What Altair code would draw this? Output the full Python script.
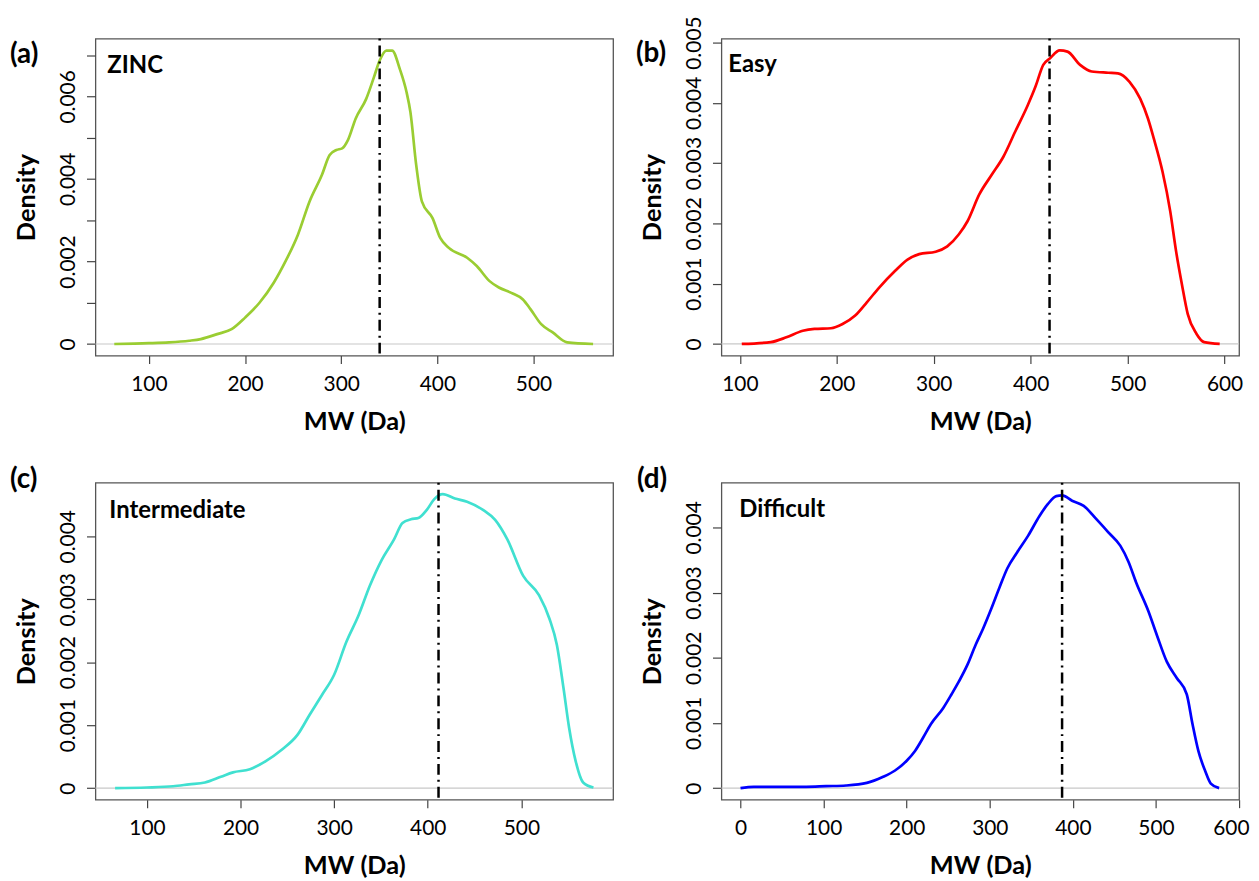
import altair as alt
import pandas as pd

# ---------------- data ----------------
zinc_mw = [64, 100, 121, 142, 154, 171, 186, 200, 215, 230, 242, 255, 267, 280, 288, 295, 301, 307,
           315, 326, 334, 340, 347, 353, 361, 368, 372, 378, 384, 395, 403, 412, 431, 441, 454, 464,
           477, 489, 497, 508, 520, 535, 562]
zinc_density = [0, 0.00002, 0.00004, 0.00008, 0.00012, 0.00024, 0.00036, 0.00064, 0.00100, 0.00149,
                0.00200, 0.00265, 0.00345, 0.00410, 0.00458, 0.00470, 0.00474, 0.00494, 0.00546,
                0.00594, 0.00646, 0.00687, 0.00711, 0.00711, 0.00666, 0.00610, 0.00562, 0.00434,
                0.00345, 0.00305, 0.00257, 0.00233, 0.00209, 0.00189, 0.00153, 0.00137, 0.00124,
                0.00108, 0.00084, 0.00048, 0.00028, 0.00004, 0]

easy_mw = [102, 132, 148, 165, 177, 194, 206, 219, 231, 244, 260, 273, 285, 302, 314, 326, 335, 347,
           360, 372, 384, 397, 405, 413, 420, 430, 438, 451, 463, 480, 490, 502, 513, 521, 527, 536,
           544, 550, 556, 562, 571, 579, 595]
easy_density = [0, 0.00003, 0.00011, 0.00022, 0.00025, 0.00026, 0.00033, 0.00047, 0.00069, 0.00094,
                0.00121, 0.00140, 0.00149, 0.00153, 0.00162, 0.00182, 0.00204, 0.00248, 0.00281,
                0.00311, 0.00352, 0.00396, 0.00427, 0.00463, 0.00474, 0.00487, 0.00485, 0.00463,
                0.00452, 0.00450, 0.00449, 0.00435, 0.00407, 0.00374, 0.00341, 0.00286, 0.00220,
                0.00154, 0.00099, 0.00050, 0.00017, 0.00003, 0]

inter_mw = [66, 100, 128, 145, 162, 179, 192, 210, 227, 244, 261, 274, 287, 300, 313, 326, 338, 351,
            364, 373, 382, 390, 399, 407, 416, 429, 442, 459, 472, 485, 502, 519, 530, 538, 545, 551,
            558, 566, 577]
inter_density = [0, 0.00001, 0.00003, 0.00006, 0.00009, 0.00018, 0.00025, 0.00030, 0.00043, 0.00061,
                 0.00085, 0.00117, 0.00148, 0.00180, 0.00232, 0.00274, 0.00321, 0.00363, 0.00395,
                 0.00421, 0.00427, 0.00429, 0.00442, 0.00459, 0.00467, 0.00460, 0.00455, 0.00442,
                 0.00426, 0.00395, 0.00337, 0.00306, 0.00269, 0.00227, 0.00159, 0.00096, 0.00043,
                 0.00009, 0.00001]

diff_mw = [0, 16, 55, 79, 103, 127, 152, 171, 186, 200, 210, 220, 229, 244, 254, 263, 273, 283, 292,
           302, 312, 321, 333, 346, 360, 370, 380, 387, 399, 413, 428, 443, 457, 467, 476, 491, 501,
           513, 525, 537, 544, 551, 559, 566, 576]
diff_density = [0, 0.00002, 0.00002, 0.00002, 0.00003, 0.00004, 0.00008, 0.00017, 0.00027, 0.00042,
                0.00057, 0.00078, 0.00098, 0.00123, 0.00144, 0.00164, 0.00189, 0.00220, 0.00245,
                0.00276, 0.00309, 0.00337, 0.00362, 0.00387, 0.00418, 0.00436, 0.00448, 0.00449,
                0.00441, 0.00433, 0.00413, 0.00392, 0.00372, 0.00347, 0.00316, 0.00271, 0.00235,
                0.00194, 0.00169, 0.00144, 0.00098, 0.00057, 0.00027, 0.00007, 0]

panel_letters = ["(a)", "(b)", "(c)", "(d)"]
panel_names = ["ZINC", "Easy", "Intermediate", "Difficult"]
panel_colors = ["#9ACD32", "#FF0000", "#40E0D0", "#0000FF"]
median_mw = [340, 419.5, 411.5, 387]
x_domains = [[44.4, 582.8], [81, 615], [45, 598], [-23, 600]]
y_domains = [[-0.00028, 0.0074], [-0.000193, 0.005066], [-0.000184, 0.00485], [-0.000178, 0.004685]]
x_ticks = [[100, 200, 300, 400, 500], [100, 200, 300, 400, 500, 600],
           [100, 200, 300, 400, 500], [0, 100, 200, 300, 400, 500, 600]]
y_ticks = [[0, 0.001, 0.002, 0.003, 0.004, 0.005, 0.006, 0.007],
           [0, 0.001, 0.002, 0.003, 0.004, 0.005],
           [0, 0.001, 0.002, 0.003, 0.004],
           [0, 0.001, 0.002, 0.003, 0.004]]
series_mw = [zinc_mw, easy_mw, inter_mw, diff_mw]
series_density = [zinc_density, easy_density, inter_density, diff_density]

# label placement (pixels relative to plot area)
letter_pos = [(-86, 17), (-86, 16), (-86, -3), (-85, -3)]
name_pos = [(12, 35), (7, 34), (14, 35), (18, 34)]

FONT = "Lato"
W, H = 521, 319


def panel(i):
    xs = alt.Scale(domain=x_domains[i], nice=False, zero=False)
    ys = alt.Scale(domain=y_domains[i], nice=False, zero=False)
    if i == 0:
        lab = ("abs(datum.value) < 1e-9 ? '0' : (round(datum.value*1000) % 2 == 1 ? '' : "
               "format(datum.value, '.3f'))")
    else:
        lab = "abs(datum.value) < 1e-9 ? '0' : format(datum.value, '.3f')"
    # the last label of panel (d) sits on the right page edge: keep it fully visible
    flush = dict(labelFlush=True, labelFlushOffset=10) if i == 3 else dict(labelFlush=False)
    x_axis = alt.Axis(values=x_ticks[i], format="d", title="MW (Da)", grid=False, domain=False,
                      tickSize=8, tickColor="#444", tickWidth=1.2, labelPadding=10,
                      labelFont=FONT, labelFontSize=21, labelColor="black",
                      labelOverlap=False, labelBound=False, **flush,
                      titleFont=FONT, titleFontSize=25.5, titleFontWeight="bold",
                      titleColor="black", titlePadding=15)
    y_axis = alt.Axis(values=y_ticks[i], labelExpr=lab, title="Density", grid=False, domain=False,
                      tickSize=9, tickColor="#444", tickWidth=1.2, labelPadding=8,
                      labelAngle=270, labelAlign="center", labelBaseline="bottom",
                      labelFont=FONT, labelFontSize=21, labelColor="black",
                      labelOverlap=False, labelFlush=False, labelBound=False,
                      titleFont=FONT, titleFontSize=25.5, titleFontWeight="bold",
                      titleColor="black", titlePadding=18)
    x_enc = alt.X("mw:Q", scale=xs, axis=x_axis)
    y_enc = alt.Y("density:Q", scale=ys, axis=y_axis)

    curve_df = pd.DataFrame({"mw": series_mw[i], "density": series_density[i]})
    zero = alt.Chart(pd.DataFrame({"density": [0.0]})).mark_rule(
        color="#c8c8c8", strokeWidth=1.2).encode(y=y_enc)
    curve = alt.Chart(curve_df).mark_line(
        color=panel_colors[i], strokeWidth=2.7, interpolate="monotone").encode(x=x_enc, y=y_enc)
    med = alt.Chart(pd.DataFrame({"mw": [median_mw[i]]})).mark_rule(
        color="black", strokeWidth=2.5, strokeDash=[2, 5, 11, 5]).encode(x=x_enc)
    lx, ly = letter_pos[i]
    letter = alt.Chart(pd.DataFrame({"t": [panel_letters[i]]})).mark_text(
        font=FONT, fontSize=28, fontWeight="bold", align="left", baseline="middle",
        color="black").encode(text="t:N", x=alt.value(lx), y=alt.value(ly))
    nx, ny = name_pos[i]
    name = alt.Chart(pd.DataFrame({"t": [panel_names[i]]})).mark_text(
        font=FONT, fontSize=24, fontWeight="bold", align="left", baseline="alphabetic",
        color="black").encode(text="t:N", x=alt.value(nx), y=alt.value(ny))
    return alt.layer(zero, curve, med, letter, name).properties(width=W, height=H)


# total drawing 1251 x 873 px, first plot area at (96, 36) on the page
chart = alt.concat(*[panel(i) for i in range(4)], columns=2).properties(
    spacing={"row": 128, "column": 109},
    bounds="flush",
    autosize=alt.AutoSizeParams(type="none"),
    padding={"left": 88, "top": 28, "right": 1163, "bottom": 845},
    background="white",
).configure_view(stroke="#555", strokeWidth=1.3)

chart.save("out.html", embed_options={"renderer": "svg", "actions": False})
